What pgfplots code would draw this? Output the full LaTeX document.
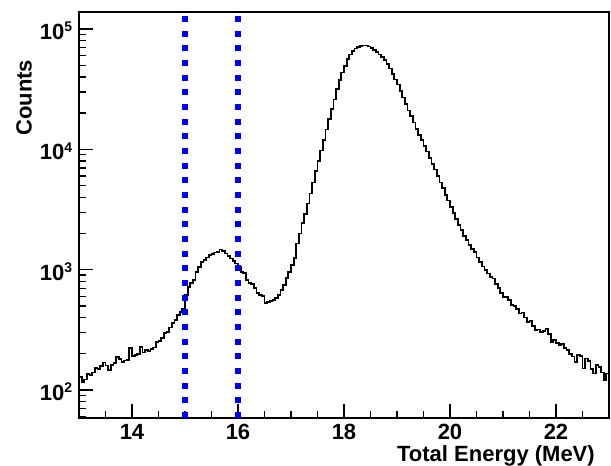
\documentclass[border=0pt]{standalone}
\usepackage{fontspec}
\setmainfont{Liberation Sans}
\usepackage{pgfplots}
\pgfplotsset{compat=1.18}
\usepackage{pgfplotstable}

% total energy spectrum, 0.05 MeV bins (left edges)
\pgfplotstableread{
E N
13.00 128
13.05 117
13.10 122
13.15 135
13.20 133
13.25 140
13.30 152
13.35 150
13.40 158
13.45 169
13.50 160
13.55 147
13.60 162
13.65 168
13.70 188
13.75 180
13.80 172
13.85 176
13.90 178
13.95 222
14.00 192
14.05 196
14.10 200
14.15 229
14.20 205
14.25 214
14.30 212
14.35 218
14.40 225
14.45 252
14.50 256
14.55 270
14.60 299
14.65 302
14.70 330
14.75 360
14.80 380
14.85 420
14.90 447
14.95 470
15.00 614
15.05 720
15.10 770
15.15 818
15.20 960
15.25 1055
15.30 1150
15.35 1198
15.40 1260
15.45 1318
15.50 1350
15.55 1390
15.60 1405
15.65 1470
15.70 1420
15.75 1361
15.80 1300
15.85 1240
15.90 1180
15.95 1125
16.00 1050
16.05 960
16.10 940
16.15 820
16.20 770
16.25 760
16.30 699
16.35 640
16.40 614
16.45 600
16.50 531
16.55 540
16.60 550
16.65 558
16.70 580
16.75 614
16.80 680
16.85 743
16.90 850
16.95 960
17.00 1100
17.05 1250
17.10 1650
17.15 2000
17.20 2450
17.25 2900
17.30 3550
17.35 4300
17.40 5300
17.45 6600
17.50 8000
17.55 9800
17.60 12000
17.65 14600
17.70 17800
17.75 21500
17.80 26000
17.85 31500
17.90 37500
17.95 43500
18.00 49500
18.05 56000
18.10 61500
18.15 66000
18.20 69000
18.25 71000
18.30 72500
18.35 73000
18.40 72800
18.45 71500
18.50 69500
18.55 67000
18.60 64500
18.65 61500
18.70 58500
18.75 55000
18.80 51000
18.85 47000
18.90 42500
18.95 38000
19.00 34500
19.05 30500
19.10 27000
19.15 23800
19.20 21000
19.25 18800
19.30 16700
19.35 14800
19.40 13200
19.45 11900
19.50 10700
19.55 9600
19.60 8500
19.65 7600
19.70 6800
19.75 6000
19.80 5300
19.85 4750
19.90 4200
19.95 3750
20.00 3320
20.05 2950
20.10 2620
20.15 2350
20.20 2130
20.25 1900
20.30 1760
20.35 1600
20.40 1480
20.45 1400
20.50 1260
20.55 1160
20.60 1060
20.65 1000
20.70 930
20.75 871
20.80 845
20.85 760
20.90 699
20.95 640
21.00 596
21.05 590
21.10 560
21.15 507
21.20 500
21.25 470
21.30 433
21.35 440
21.40 400
21.45 369
21.50 372
21.55 340
21.60 315
21.65 318
21.70 305
21.75 310
21.80 319
21.85 290
21.90 252
21.95 262
22.00 245
22.05 236
22.10 240
22.15 222
22.20 214
22.25 200
22.30 190
22.35 172
22.40 195
22.45 192
22.50 151
22.55 183
22.60 175
22.65 150
22.70 137
22.75 161
22.80 155
22.85 140
22.90 121
22.95 137
23.00 137
}\spectrum

\newcommand{\rootfont}{\fontsize{16.5}{19}\selectfont\bfseries}
\newcommand{\dec}[1]{10\raisebox{0.36em}{\fontsize{10.5}{11}\selectfont #1}}

\begin{document}
\begin{tikzpicture}
\useasboundingbox (-59.25pt,-35.25pt) rectangle (399pt,313.5pt);
\begin{axis}[
    scale only axis,
    width=397.5pt, height=304.5pt,
    ymode=log,
    xmin=13, xmax=23,
    ymin=58.5, ymax=138400,
    xtick={14,16,...,22},
    minor xtick={13,13.5,...,23},
    ytick={100,1000,10000,100000},
    yticklabels={\dec{2},\dec{3},\dec{4},\dec{5}},
    minor ytick={60,70,80,90,200,300,400,500,600,700,800,900,
                 2000,3000,4000,5000,6000,7000,8000,9000,
                 20000,30000,40000,50000,60000,70000,80000,90000},
    tick pos=left, tick align=inside,
    major tick length=10.5pt, minor tick length=5.25pt,
    tick style={black, line width=1pt},
    axis line style={line width=1.2pt},
    /pgf/number format/assume math mode=true,
    tick label style={font=\rootfont},
    label style={font=\rootfont},
    xticklabel style={inner sep=0pt, yshift=-4.5pt},
    yticklabel style={inner sep=0pt, xshift=-5pt, yshift=-1.5pt},
    xlabel={Total Energy (MeV)},
    ylabel={Counts},
    xlabel style={at={(axis description cs:0.9736,0)}, anchor=base east, yshift=-32.5pt, inner sep=0pt},
    ylabel style={at={(axis description cs:-0.1038,0.789)}, anchor=center, inner sep=0pt},
]
\addplot[const plot mark left, black, line width=1.3pt] table[x=E, y=N] {\spectrum};
\addplot[blue, line width=4pt, dash pattern=on 4.5pt off 6.5pt] coordinates {(15,58.5) (15,138400)};
\addplot[blue, line width=4pt, dash pattern=on 4.5pt off 6.5pt] coordinates {(16,58.5) (16,138400)};
\end{axis}
\end{tikzpicture}
\end{document}
